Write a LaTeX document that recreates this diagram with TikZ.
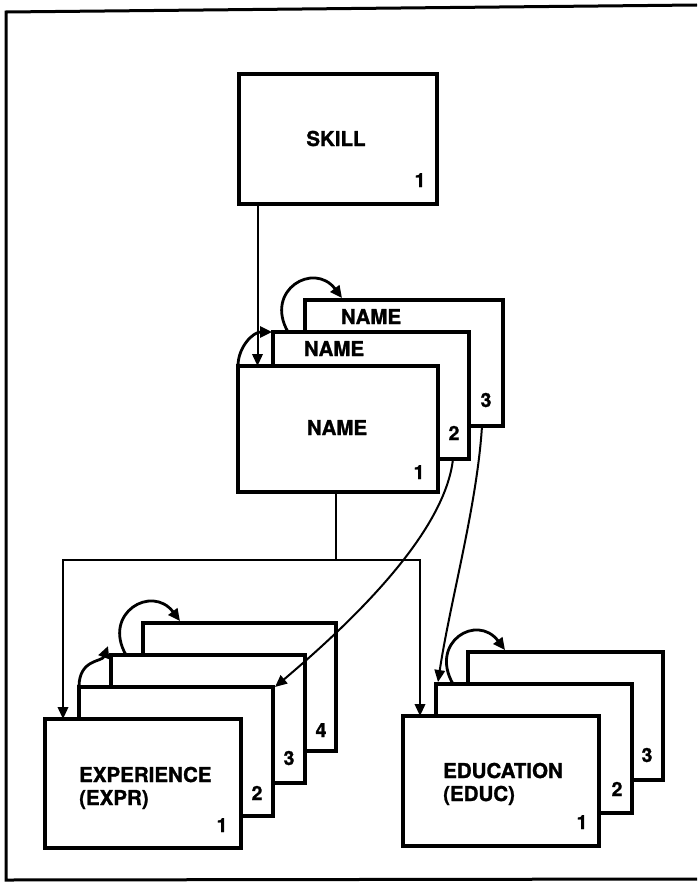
\documentclass[tikz,border=0pt]{standalone}
\usepackage{fontspec}
\setmainfont{TeX Gyre Heros}
\newfontfamily\heavyfont[FakeBold=1.2]{TeX Gyre Heros}
\usetikzlibrary{arrows.meta,calc}

\begin{document}
\begin{tikzpicture}[x=1pt,y=-1pt,
  box/.style={draw, line width=3.2pt, fill=white, rectangle, inner sep=0pt,
    outer sep=0pt, anchor=north west},
  txt/.style={font=\heavyfont\fontsize{20.5}{24}\selectfont\bfseries, inner sep=0pt, anchor=base},
  num/.style={font=\heavyfont\fontsize{19.5}{22}\selectfont\bfseries, inner sep=0pt, anchor=base},
  conn/.style={line width=2pt},
  arr/.style={conn, -{Triangle[length=12pt,width=10.5pt]}},
  cyc/.style={line width=2.8pt, -{Triangle[length=12pt,width=11pt]}}]

\useasboundingbox (0,0) rectangle (697,883);

% outer frame (open on the right)
\draw[line width=3pt] (697,5) -- (6,12) -- (6,880) -- (697,879);

% SKILL record
\node[box, minimum width=198pt, minimum height=130pt] (SK) at (239,74) {};
\node[txt] (SKt) at (336,146) {SKILL};
\node[num] (SKn) at (420,187) {1};

% NAME occurrences
\node[box, minimum width=198pt, minimum height=126pt] (N3) at (305,300) {};
\node[box, minimum width=196pt, minimum height=127pt] (N2) at (273,332) {};
\node[box, minimum width=200pt, minimum height=126pt] (N1) at (238,366) {};
\node[txt] (N3t) at (371,324) {NAME};
\node[txt] (N2t) at (334,356) {NAME};
\node[txt] (N1t) at (337,435) {NAME};
\node[num] (N3n) at (486,407) {3};
\node[num] (N2n) at (454,440) {2};
\node[num] (N1n) at (419,479) {1};

% EXPERIENCE occurrences
\node[box, minimum width=193pt, minimum height=128pt] (E4) at (143,623) {};
\node[box, minimum width=194pt, minimum height=128pt] (E3) at (111,655) {};
\node[box, minimum width=194pt, minimum height=129pt] (E2) at (79,687) {};
\node[box, minimum width=196pt, minimum height=129pt] (E1) at (45,719) {};
\node[txt, anchor=base west] (E1t) at (79,782) {EXPERIENCE};
\node[txt, anchor=base west] (E1u) at (79,805) {(EXPR)};
\node[num] (E4n) at (321,737) {4};
\node[num] (E3n) at (289,765) {3};
\node[num] (E2n) at (257,800) {2};
\node[num] (E1n) at (222,832) {1};

% EDUCATION occurrences
\node[box, minimum width=195pt, minimum height=128pt] (D3) at (468,652) {};
\node[box, minimum width=196pt, minimum height=129pt] (D2) at (436,684) {};
\node[box, minimum width=196pt, minimum height=130pt] (D1) at (403,716) {};
\node[txt, anchor=base west] (D1t) at (443,778) {EDUCATION};
\node[txt, anchor=base west] (D1u) at (443,801) {(EDUC)};
\node[num] (D3n) at (647,762) {3};
\node[num] (D2n) at (617,796) {2};
\node[num] (D1n) at (582,829) {1};

% SKILL to NAME
\draw[arr] ([xshift=18.5pt]SK.south west) -- ([xshift=18.5pt]SK.south west |- N1.north);

% NAME to EXPERIENCE and EDUCATION
\coordinate (busL) at (63,560);
\coordinate (busR) at (420,560);
\draw[conn] ([xshift=-2pt]N1.south) -- ([xshift=-2pt]N1.south |- busL);
\draw[arr] (busL) -- (busR) -- (busR |- D1.north);
\draw[arr] (busR) -- (busL) -- (busL |- E1.north);

\draw[arr] ([xshift=-16pt]N2.south east) .. controls +(-8,71) and +(85,-72)
  .. ([xshift=2pt]E2.north east);
\draw[arr] ([xshift=-21pt]N3.south east) .. controls +(-5,80) and +(12,-80)
  .. ([xshift=2pt,yshift=2pt]D2.north west);

% next-occurrence chains
\draw[cyc] (N1.north west) .. controls +(0,-19) and +(-19,0)
  .. ([xshift=-1pt]N2.north west);
\draw[cyc] ([xshift=15pt]N2.north west) .. controls +(-24,-42) and +(-28,-37)
  .. ([xshift=37pt,yshift=2pt]N3.north west);

\draw[cyc] (E2.north west) .. controls +(0,-28) and +(-6,16)
  .. ([xshift=-3pt,yshift=9pt]E3.north west);
\draw[cyc] ([xshift=15pt]E3.north west) .. controls +(-24,-42) and +(-28,-37)
  .. ([xshift=37pt,yshift=2pt]E4.north west);

\draw[cyc] ([xshift=17pt]D2.north west) .. controls +(-24,-42) and +(-28,-37)
  .. ([xshift=37pt,yshift=2pt]D3.north west);

\end{tikzpicture}
\end{document}
